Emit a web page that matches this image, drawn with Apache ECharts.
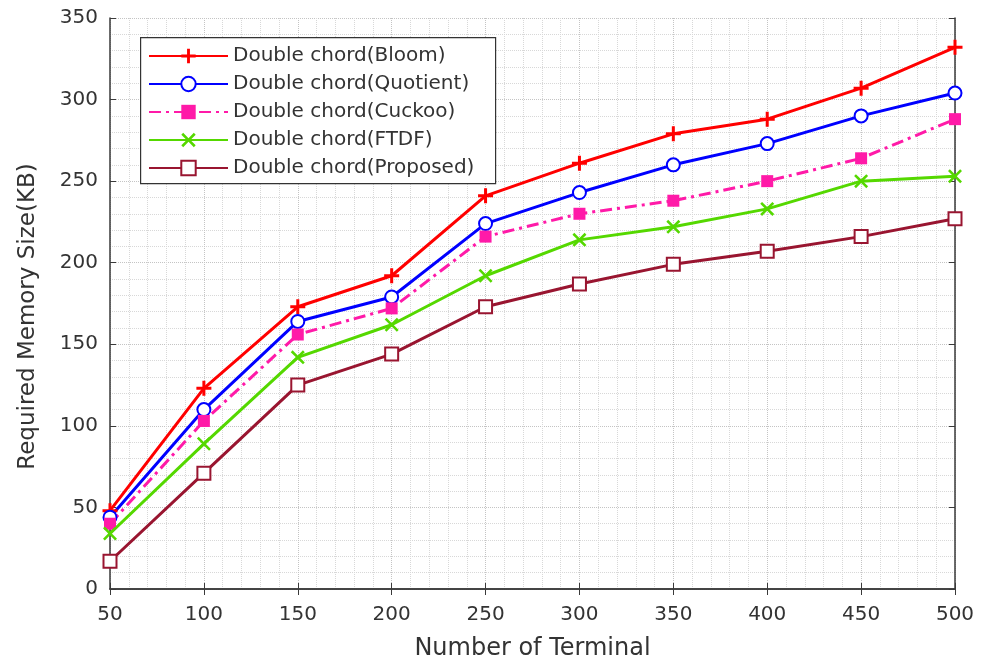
<!DOCTYPE html>
<html>
<head>
<meta charset="utf-8">
<script src="https://cdn.jsdelivr.net/npm/echarts@6/dist/echarts.min.js"></script>
<style>
html,body{margin:0;padding:0;background:#fff;}
#chart{width:984px;height:659px;}
</style>
</head>
<body>
<div id="chart"></div>
<script>
var terminals = [50, 100, 150, 200, 250, 300, 350, 400, 450, 500];
var bloom     = [48, 123, 173, 192, 241, 261, 279, 288, 307, 332];
var quotient  = [44, 110, 164, 179, 224, 243, 260, 273, 290, 304];
var cuckoo    = [40, 103, 156, 172, 216, 230, 238, 250, 264, 288];
var ftdf      = [34, 89, 142, 162, 192, 214, 222, 233, 250, 253];
var proposed  = [17, 71, 125, 144, 173, 187, 199, 207, 216, 227];
var seriesNames = ['Double chord(Bloom)', 'Double chord(Quotient)', 'Double chord(Cuckoo)', 'Double chord(FTDF)', 'Double chord(Proposed)'];
var xTicks = [50, 500, 50];
var yTicks = [0, 350, 50];

function pairs(ys){ return terminals.map(function(x,i){ return [x, ys[i]]; }); }

var FONT = 'DejaVu Sans';
var plusPath = 'path://M4,0H6V4H10V6H6V10H4V6H0V4H4Z';
var xPath = 'path://M0,1.3L1.3,0L5,3.7L8.7,0L10,1.3L6.3,5L10,8.7L8.7,10L5,6.3L1.3,10L0,8.7L3.7,5Z';

var chart = echarts.init(document.getElementById('chart'), null, {renderer:'canvas'});

var axisLine = {show:true, lineStyle:{color:'#3a3a3a', width:1.5}};
var gridLine = {show:true, lineStyle:{color:'#c4c4c4', type:'dotted', width:1}};
var minorGrid = {show:true, lineStyle:{color:'#d8d8d8', type:'dotted', width:1}};
var txt = '#333333';

chart.setOption({
  backgroundColor:'#ffffff',
  animation:false,
  grid:{left:110, right:29, top:18, bottom:70, containLabel:false, outerBoundsMode:'none'},
  graphic:[{
    type:'rect', left:140, top:37, z:10,
    shape:{width:355, height:146},
    style:{fill:'#ffffff', stroke:'#333333', lineWidth:1.2}
  }],
  legend:{
    orient:'vertical', left:140, top:37, z:20,
    padding:[9, 8, 8, 8],
    itemWidth:79, itemHeight:18, itemGap:8,
    textStyle:{fontFamily:FONT, fontSize:20, color:txt, lineHeight:20},
    data:seriesNames
  },
  xAxis:[{
    type:'value', min:xTicks[0], max:xTicks[1], interval:xTicks[2],
    name:'Number of Terminal', nameLocation:'middle', nameGap:48,
    nameTextStyle:{fontFamily:FONT, fontSize:24, color:txt},
    axisLine:axisLine,
    axisTick:{show:true, inside:true, length:6, lineStyle:{color:'#3a3a3a'}},
    axisLabel:{fontFamily:FONT, fontSize:20, color:txt, margin:16},
    splitLine:gridLine,
    minorTick:{show:false, splitNumber:5},
    minorSplitLine:minorGrid
  },{
    type:'value', position:'top', min:xTicks[0], max:xTicks[1], interval:xTicks[2],
    axisLine:axisLine,
    axisTick:{show:true, inside:true, length:6, lineStyle:{color:'#3a3a3a'}},
    axisLabel:{show:false}, splitLine:{show:false}
  }],
  yAxis:[{
    type:'value', min:yTicks[0], max:yTicks[1], interval:yTicks[2],
    name:'Required Memory Size(KB)', nameLocation:'middle', nameGap:70,
    nameTextStyle:{fontFamily:FONT, fontSize:23, color:txt, padding:[0, 26, 0, 0]},
    axisLine:axisLine,
    axisTick:{show:true, inside:true, length:6, lineStyle:{color:'#3a3a3a'}},
    axisLabel:{fontFamily:FONT, fontSize:20, color:txt, margin:12},
    splitLine:gridLine,
    minorTick:{show:false, splitNumber:5},
    minorSplitLine:minorGrid
  },{
    type:'value', position:'right', min:yTicks[0], max:yTicks[1], interval:yTicks[2],
    axisLine:axisLine,
    axisTick:{show:true, inside:true, length:6, lineStyle:{color:'#3a3a3a'}},
    axisLabel:{show:false}, splitLine:{show:false}
  }],
  series:[
    {name:seriesNames[0], type:'line', data:pairs(bloom), symbol:plusPath, symbolSize:15,
     lineStyle:{color:'#ff0000', width:3}, itemStyle:{color:'#ff0000'}, z:5},
    {name:seriesNames[1], type:'line', data:pairs(quotient), symbol:'emptyCircle', symbolSize:13,
     lineStyle:{color:'#0000ff', width:3}, itemStyle:{color:'#0000ff', borderWidth:2.8}, z:5},
    {name:seriesNames[2], type:'line', data:pairs(cuckoo), symbol:'rect', symbolSize:12,
     lineStyle:{color:'#ff1aa8', width:3, type:[12,5,3,5]}, itemStyle:{color:'#ff1aa8'}, z:5},
    {name:seriesNames[3], type:'line', data:pairs(ftdf), symbol:xPath, symbolSize:14,
     lineStyle:{color:'#55d800', width:3}, itemStyle:{color:'#55d800'}, z:5},
    {name:seriesNames[4], type:'line', data:pairs(proposed), symbol:'emptyRect', symbolSize:13,
     lineStyle:{color:'#991530', width:3}, itemStyle:{color:'#991530', borderWidth:3.2}, z:5}
  ]
});
</script>
</body>
</html>
